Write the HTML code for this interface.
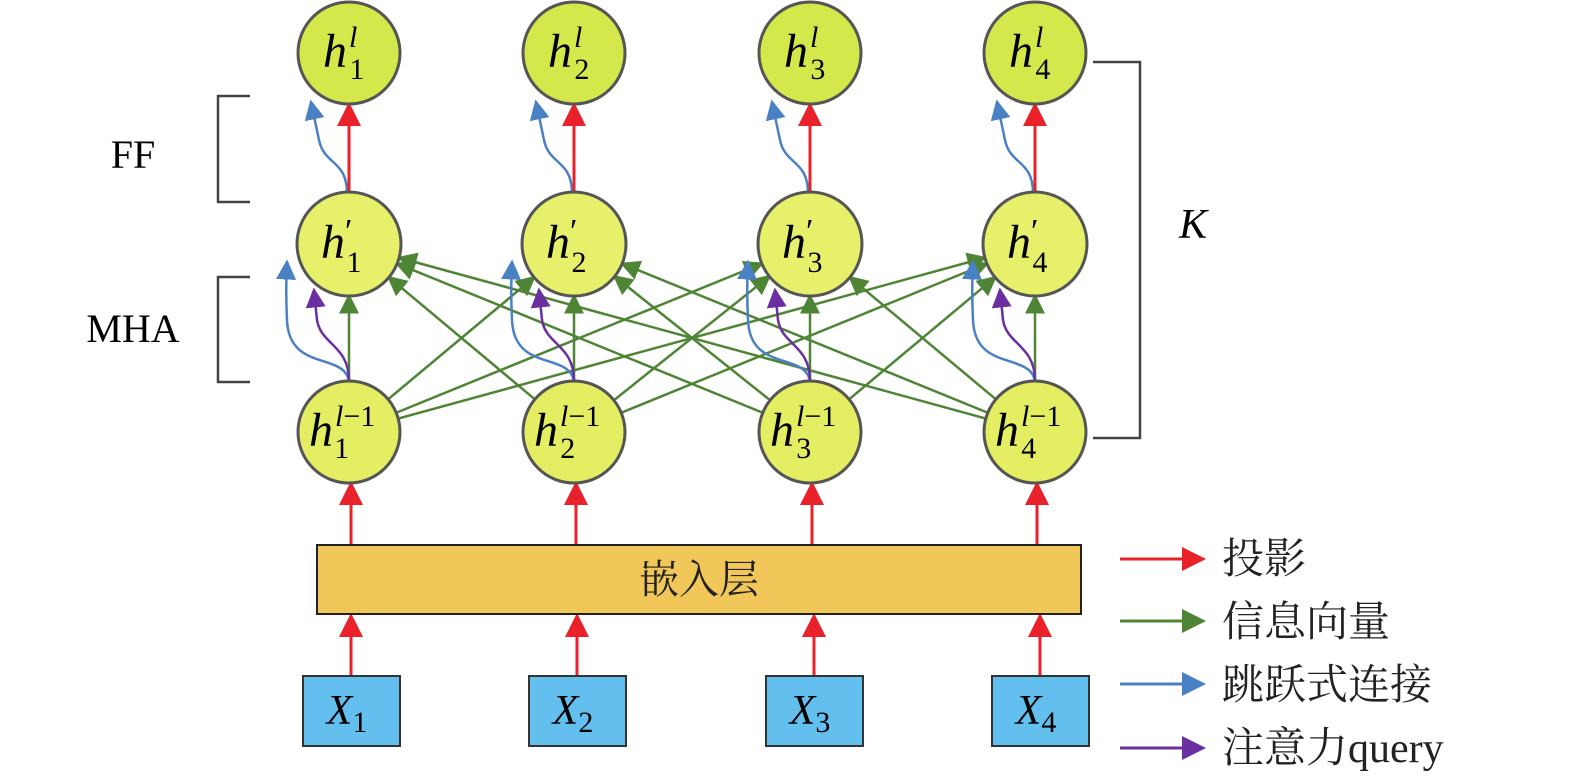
<!DOCTYPE html>
<html><head><meta charset="utf-8"><style>
html,body{margin:0;padding:0;background:#fff;}
svg{display:block}
.t{font-family:"Liberation Serif","Noto Serif CJK SC",serif;}
</style></head><body>
<svg id="s" width="1575" height="781" viewBox="0 0 1575 781" xmlns="http://www.w3.org/2000/svg">
<defs>
<marker id="mr" markerWidth="8" markerHeight="8" refX="7" refY="4" orient="auto" viewBox="0 0 8 8"><path d="M0,0 L8,4 L0,8z" fill="#e8212a"/></marker>
<marker id="mg" markerWidth="8" markerHeight="8" refX="7" refY="4" orient="auto" viewBox="0 0 8 8"><path d="M0,0 L8,4 L0,8z" fill="#4e8535"/></marker>
<marker id="mb" markerWidth="8" markerHeight="8" refX="7" refY="4" orient="auto" viewBox="0 0 8 8"><path d="M0,0 L8,4 L0,8z" fill="#4a80c4"/></marker>
<marker id="mp" markerWidth="8" markerHeight="8" refX="7" refY="4" orient="auto" viewBox="0 0 8 8"><path d="M0,0 L8,4 L0,8z" fill="#6a2fa0"/></marker>
</defs>
<g id="lines"></g>
<g id="nodes"></g>
<rect x="317" y="545" width="764" height="69" fill="#f0c758" stroke="#222" stroke-width="2"/>
<text x="699" y="593" class="t" font-size="40" text-anchor="middle" fill="#222">嵌入层</text>
<path d="M250,96 H218 V202 H250" fill="none" stroke="#444" stroke-width="2.5"/>
<path d="M250,277 H218 V382 H250" fill="none" stroke="#444" stroke-width="2.5"/>
<path d="M1093,62 H1140 V438 H1093" fill="none" stroke="#444" stroke-width="2.5"/>
<text x="133" y="168" class="t" font-size="40" text-anchor="middle">FF</text>
<text x="133" y="342" class="t" font-size="40" text-anchor="middle">MHA</text>
<text x="1193" y="238" class="t" font-size="42" font-style="italic" text-anchor="middle">K</text>
<line x1="1120" y1="559" x2="1203" y2="559" stroke="#e8212a" stroke-width="3" marker-end="url(#mr)"/>
<line x1="1120" y1="621" x2="1203" y2="621" stroke="#4e8535" stroke-width="3" marker-end="url(#mg)"/>
<line x1="1120" y1="684" x2="1203" y2="684" stroke="#4a80c4" stroke-width="3" marker-end="url(#mb)"/>
<line x1="1120" y1="748" x2="1203" y2="748" stroke="#6a2fa0" stroke-width="3" marker-end="url(#mp)"/>
<g class="t" font-size="42" fill="#222">
<text x="1222" y="573">投影</text>
<text x="1222" y="636">信息向量</text>
<text x="1222" y="699">跳跃式连接</text>
<text x="1222" y="762">注意力query</text>
</g>
</svg>
<script>
const NS="http://www.w3.org/2000/svg";
const L=document.getElementById('lines'),N=document.getElementById('nodes');
const cx=[349,574,810,1035], bx=[351,577,814,1040];
const yT=53,yM=244,yB=432,r=51;
function el(p,tag,a,txt){const e=document.createElementNS(NS,tag);for(const k in a)e.setAttribute(k,a[k]);if(txt!==undefined)e.innerHTML=txt;p.appendChild(e);return e;}
function ln(x1,y1,x2,y2,c,m,w){el(L,'line',{x1,y1,x2,y2,stroke:c,'stroke-width':w||2.5,'marker-end':'url(#'+m+')'});}
for(let i=0;i<4;i++)for(let j=0;j<4;j++){
 const sx=cx[i],sy=yB,tx=cx[j],ty=yM;
 const dx=tx-sx,dy=ty-sy,d=Math.hypot(dx,dy),ux=dx/d,uy=dy/d;
 ln(sx+ux*r,sy+uy*r,tx-ux*(r+1),ty-uy*(r+1),'#4e8535','mg',2.5);
}
for(let i=0;i<4;i++){
 const x=cx[i];
 el(L,'path',{d:`M${x},${yB-r} C${x-5},352 ${x-60},372 ${x-62},320 C${x-63},300 ${x-63},280 ${x-62},262`,fill:'none',stroke:'#4a80c4','stroke-width':2.5,'marker-end':'url(#mb)'});
 el(L,'path',{d:`M${x},${yB-r} C${x},345 ${x-28},345 ${x-32},320 L${x-35},290`,fill:'none',stroke:'#6a2fa0','stroke-width':2.5,'marker-end':'url(#mp)'});
 el(L,'path',{d:`M${x-2},${yM-r} C${x-2},160 ${x-25},165 ${x-30},140 L${x-38},${yT+r-2}`,fill:'none',stroke:'#4a80c4','stroke-width':2.5,'marker-end':'url(#mb)'});
 ln(x,yM-r,x,yT+r+1,'#e8212a','mr',3);
 ln(x+2,545,x+2,yB+r+1,'#e8212a','mr',3);
 ln(bx[i],676,bx[i],616,'#e8212a','mr',3);
 el(N,'rect',{x:bx[i]-48,y:676,width:97,height:70,fill:'#63bfee',stroke:'#333','stroke-width':2});
 el(N,'text',{x:bx[i]-4,y:724,'class':'t','font-size':42,'text-anchor':'middle'},`<tspan font-style="italic">X</tspan><tspan font-size="30" dy="8">${i+1}</tspan>`);
 el(N,'circle',{cx:x,cy:yT,r:r,fill:'#d5e84b',stroke:'#555','stroke-width':3});
 el(N,'text',{x:x-26,y:yT+14,'class':'t','font-size':48,'font-style':'italic'},`h<tspan font-size="30" dx="2" dy="-20">l</tspan><tspan font-size="30" font-style="normal" dx="-8" dy="32">${i+1}</tspan>`);
 el(N,'circle',{cx:x,cy:yM,r:r+1,fill:'#e7f06b',stroke:'#555','stroke-width':3});
 el(N,'text',{x:x-28,y:yM+14,'class':'t','font-size':48,'font-style':'italic'},`h<tspan font-style="normal" font-size="34" dy="-16">′</tspan><tspan font-size="30" font-style="normal" dx="-6" dy="30">${i+1}</tspan>`);
 el(N,'circle',{cx:x,cy:yB,r:r,fill:'#e3ee62',stroke:'#555','stroke-width':3});
 el(N,'text',{x:x-40,y:yB+14,'class':'t','font-size':48,'font-style':'italic'},`h<tspan font-size="30" dx="2" dy="-20">l</tspan><tspan font-size="30" font-style="normal">−1</tspan><tspan font-size="30" font-style="normal" dx="-40" dy="32">${i+1}</tspan>`);
}
</script>
</body></html>
